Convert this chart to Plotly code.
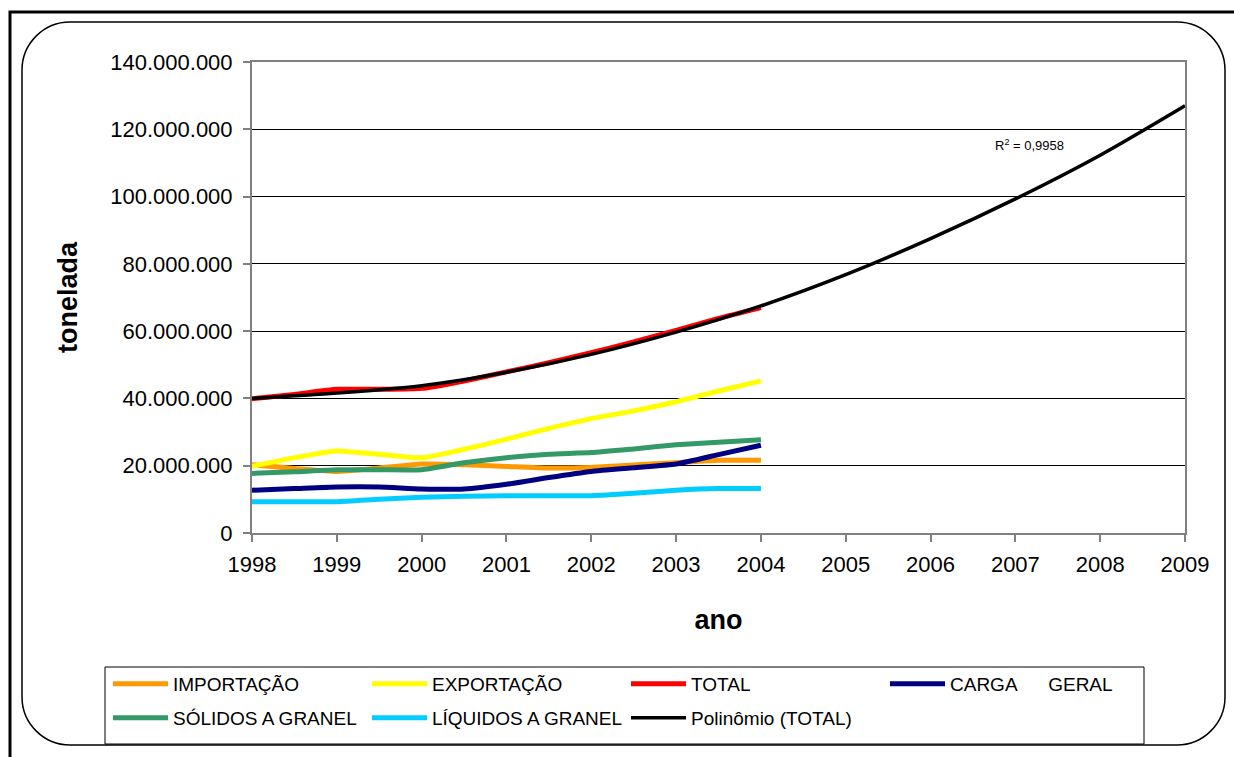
import plotly.graph_objects as go

# Movimentação de cargas (toneladas), pontos semestrais 1998-2004
anos = [1998.0, 1998.5, 1999.0, 1999.5, 2000.0, 2000.5, 2001.0,
        2001.5, 2002.0, 2002.5, 2003.0, 2003.5, 2004.0]

importacao = [20.3, 19.2, 18.3, 19.3, 20.5, 20.3, 19.8, 19.3, 19.5, 20.2, 20.9, 21.6, 21.6]
exportacao = [19.8, 22.4, 24.4, 23.4, 22.4, 24.9, 27.9, 31.1, 34.0, 36.3, 39.0, 42.2, 45.2]
total = [39.9, 41.2, 42.7, 42.7, 43.0, 45.2, 47.9, 50.6, 53.6, 56.8, 60.2, 63.8, 67.0]
carga_geral = [12.7, 13.2, 13.7, 13.7, 13.1, 13.1, 14.5, 16.5, 18.3, 19.4, 20.5, 23.3, 26.1]
solidos_granel = [17.7, 18.2, 18.8, 18.8, 18.8, 20.9, 22.4, 23.4, 23.9, 25.0, 26.2, 27.0, 27.7]
liquidos_granel = [9.3, 9.3, 9.3, 10.0, 10.6, 10.9, 11.1, 11.1, 11.1, 11.8, 12.7, 13.2, 13.2]

# Linha de tendência polinomial do total, projetada até 2009
anos_tendencia = [1998, 1999, 2000, 2001, 2002, 2003, 2004, 2005, 2006, 2007, 2008, 2009]
tendencia_total = [40.0, 41.6, 43.8, 47.8, 53.1, 59.7, 67.5, 76.8, 87.5, 99.3, 112.3, 127.0]
r2_texto = "R<sup>2</sup> = 0,9958"

y_ticks = [0, 20e6, 40e6, 60e6, 80e6, 100e6, 120e6, 140e6]
x_ticks = list(range(1998, 2010))

MILHAO = 1e6
FONT = "Liberation Sans, Arial, sans-serif"

# (nome, valores, cor, legenda) -- a legenda é dividida em duas linhas
series = [
    ("IMPORTAÇÃO", importacao, "#FF9900", "legend"),
    ("EXPORTAÇÃO", exportacao, "#FFFF00", "legend"),
    ("TOTAL", total, "#FF0000", "legend"),
    ("CARGA      GERAL", carga_geral, "#000080", "legend"),
    ("SÓLIDOS A GRANEL", solidos_granel, "#339966", "legend2"),
    ("LÍQUIDOS A GRANEL", liquidos_granel, "#00CCFF", "legend2"),
]

fig = go.Figure()
for nome, valores, cor, leg in series:
    fig.add_trace(go.Scatter(
        x=anos, y=[v * MILHAO for v in valores], name=nome, mode="lines",
        line=dict(color=cor, width=5, shape="spline", smoothing=0.5),
        legend=leg,
    ))

fig.add_trace(go.Scatter(
    x=anos_tendencia, y=[v * MILHAO for v in tendencia_total],
    name="Polinômio (TOTAL)", mode="lines",
    line=dict(color="black", width=3.5, shape="spline", smoothing=0.8),
    legend="legend2",
))

# Layout em pixels da página
W, H = 1234, 757
L, R, T, B = 252, 1185, 62, 533


def px_x(p):
    return (p - L) / (R - L)


def px_y(p):
    return (B - p) / (B - T)


shapes = []
# moldura externa (apenas lados esquerdo e superior visíveis)
shapes.append(dict(type="path", xref="paper", yref="paper",
                   path=f"M {px_x(10)},{px_y(770)} L {px_x(10)},{px_y(12)} L {px_x(1250)},{px_y(12)}",
                   line=dict(color="black", width=3), layer="below"))

# retângulo arredondado da área do gráfico
x0, x1, y0, y1, rr = 22, 1225, 22, 745, 48
k = 0.45
path = (
    f"M {px_x(x0 + rr)},{px_y(y0)} "
    f"L {px_x(x1 - rr)},{px_y(y0)} "
    f"C {px_x(x1 - rr * k)},{px_y(y0)} {px_x(x1)},{px_y(y0 + rr * k)} {px_x(x1)},{px_y(y0 + rr)} "
    f"L {px_x(x1)},{px_y(y1 - rr)} "
    f"C {px_x(x1)},{px_y(y1 - rr * k)} {px_x(x1 - rr * k)},{px_y(y1)} {px_x(x1 - rr)},{px_y(y1)} "
    f"L {px_x(x0 + rr)},{px_y(y1)} "
    f"C {px_x(x0 + rr * k)},{px_y(y1)} {px_x(x0)},{px_y(y1 - rr * k)} {px_x(x0)},{px_y(y1 - rr)} "
    f"L {px_x(x0)},{px_y(y0 + rr)} "
    f"C {px_x(x0)},{px_y(y0 + rr * k)} {px_x(x0 + rr * k)},{px_y(y0)} {px_x(x0 + rr)},{px_y(y0)} Z"
)
shapes.append(dict(type="path", xref="paper", yref="paper", path=path,
                   line=dict(color="black", width=1.5), layer="below"))

# caixa da legenda
shapes.append(dict(type="rect", xref="paper", yref="paper",
                   x0=px_x(105), x1=px_x(1144), y0=px_y(744), y1=px_y(667),
                   line=dict(color="black", width=1), fillcolor="white", layer="below"))

legend_common = dict(
    orientation="h", xref="paper", yref="paper",
    xanchor="left", yanchor="top",
    bgcolor="rgba(0,0,0,0)", borderwidth=0,
    font=dict(family=FONT, size=19, color="black"),
    entrywidth=189, entrywidthmode="pixels", itemwidth=55,
    traceorder="normal",
)

fig.update_layout(
    width=W, height=H,
    margin=dict(l=L, r=W - R, t=T, b=H - B, pad=0),
    paper_bgcolor="white", plot_bgcolor="white",
    separators=",.",
    font=dict(family=FONT, color="black"),
    shapes=shapes,
    showlegend=True,
    legend=dict(x=px_x(108), y=px_y(665), **legend_common),
    legend2=dict(x=px_x(108), y=px_y(699), **legend_common),
    annotations=[dict(
        x=2009 - (1185 - 1029) / ((R - L) / 11), y=(533 - 145) / (B - T) * 140e6,
        xref="x", yref="y", text=r2_texto, showarrow=False,
        font=dict(family=FONT, size=13, color="black"),
    )],
    xaxis=dict(
        range=[1998, 2009], tickvals=x_ticks, ticktext=[str(a) for a in x_ticks],
        showgrid=False, zeroline=False,
        showline=True, linecolor="#808080", linewidth=2, mirror=True,
        ticks="outside", ticklen=7, tickcolor="#808080", tickwidth=2,
        ticklabelstandoff=4,
        tickfont=dict(family=FONT, size=22, color="black"),
        title=dict(text="<b>ano</b>", font=dict(family=FONT, size=27, color="black"), standoff=34),
    ),
    yaxis=dict(
        range=[0, 140e6], tickvals=y_ticks, tickformat=",d",
        showgrid=True, gridcolor="black", gridwidth=1, zeroline=False,
        showline=True, linecolor="#808080", linewidth=2, mirror=True,
        ticks="outside", ticklen=7, tickcolor="#808080", tickwidth=2,
        ticklabelstandoff=6,
        tickfont=dict(family=FONT, size=22, color="black"),
        title=dict(text="<b>tonelada</b>", font=dict(family=FONT, size=27, color="black"), standoff=25),
    ),
)

fig.write_html("out.html")
